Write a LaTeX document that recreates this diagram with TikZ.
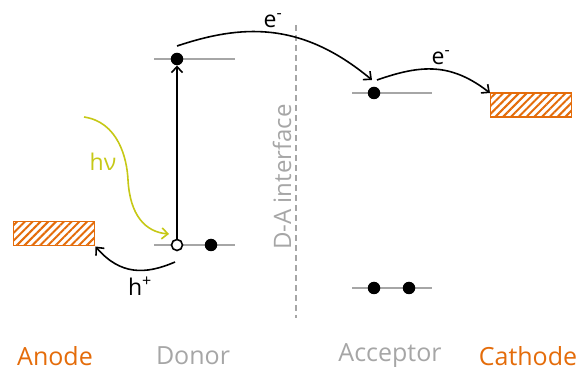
\documentclass[tikz,border=0pt]{standalone}
\usepackage{fontspec}
\setmainfont{Open Sans}
\usetikzlibrary{patterns.meta,arrows.meta}
\definecolor{orng}{HTML}{E46C0A}
\definecolor{gry}{HTML}{A6A6A6}
\definecolor{ylw}{HTML}{C6C816}
\tikzset{
  level/.style={draw=gry, line width=1.5pt},
  dot/.style={circle, fill=black, inner sep=0pt, minimum size=12.5pt},
  hole/.style={circle, draw=black, fill=white, line width=1.6pt, inner sep=0pt, minimum size=11pt},
  electrode/.style={draw=orng, line width=1.5pt, pattern={Lines[angle=45, distance=5.5pt, line width=2pt]}, pattern color=orng, minimum width=81pt, minimum height=24pt, inner sep=0pt},
  arr/.style={-{Straight Barb[length=6pt,width=11pt]}, line width=1.6pt},
  lbl/.style={font=\fontsize{25}{30}\selectfont, inner sep=1pt},
  mid/.style={font=\fontsize{23}{28}\selectfont},
  small/.style={font=\fontsize{24}{28}\selectfont}
}
\begin{document}
\begin{tikzpicture}[x=1pt,y=-1pt]
\useasboundingbox (0,0) rectangle (584,371);
% levels
\coordinate (dl1) at (154,59); \coordinate (dl2) at (235,59);
\coordinate (dh1) at (154,245); \coordinate (dh2) at (235,245);
\coordinate (al1) at (352,93); \coordinate (al2) at (432,93);
\coordinate (ah1) at (352,288); \coordinate (ah2) at (432,288);
\draw[level] (dl1) -- (dl2);
\draw[level] (dh1) -- (dh2);
\draw[level] (al1) -- (al2);
\draw[level] (ah1) -- (ah2);
% interface
\coordinate (i1) at (296,25); \coordinate (i2) at (296,318);
\draw[gry, line width=1.5pt, dash pattern=on 6pt off 4pt] (i1) -- (i2);
\node[gry, rotate=90, small] (ilbl) at (282,177) {D-A interface};
% dots
\node[dot] (dL) at (177,59) {};
\node[hole] (dH) at (177,245) {};
\node[dot] (dH2) at (211,245) {};
\node[dot] (aL) at (374,93) {};
\node[dot] (aH1) at (374,288) {};
\node[dot] (aH2) at (409,288) {};
% electrodes
\node[electrode] (anode) at (54,233.5) {};
\node[electrode] (cathode) at (531,105) {};
% arrows
\draw[arr] (dH.north) -- (dL.south);
\coordinate (hvs) at (84,117);
\draw[arr, ylw] (hvs) .. controls (118,122) and (127,158) .. (128,180) .. controls (130,215) and (145,232) .. (169,234);
\node[ylw, mid] (hv) at (103,162) {hν};
\coordinate (hs) at (175,262);
\draw[arr] (hs) .. controls (145,275) and (120,275) .. (anode.south east);
\node[mid] (hp) at (140,286) {h\textsuperscript{+}};
\coordinate (e1s) at (177,46);
\coordinate (e1e) at (372,80);
\draw[arr] (e1s) .. controls (240,25) and (300,20) .. (e1e);
\node[mid] (em1) at (273,21) {e\textsuperscript{-}};
\coordinate (e2s) at (377,80);
\coordinate (e2e) at (490,93);
\draw[arr] (e2s) .. controls (420,65) and (450,62) .. (e2e);
\node[mid] (em2) at (441,58) {e\textsuperscript{-}};
% bottom labels
\node[orng, lbl] (tA) at (55,356) {Anode};
\node[gry, lbl] (tD) at (193,356) {Donor};
\node[gry, lbl] (tAc) at (390,356) {Acceptor};
\node[orng, lbl] (tC) at (528,356) {Cathode};
\end{tikzpicture}
\end{document}
